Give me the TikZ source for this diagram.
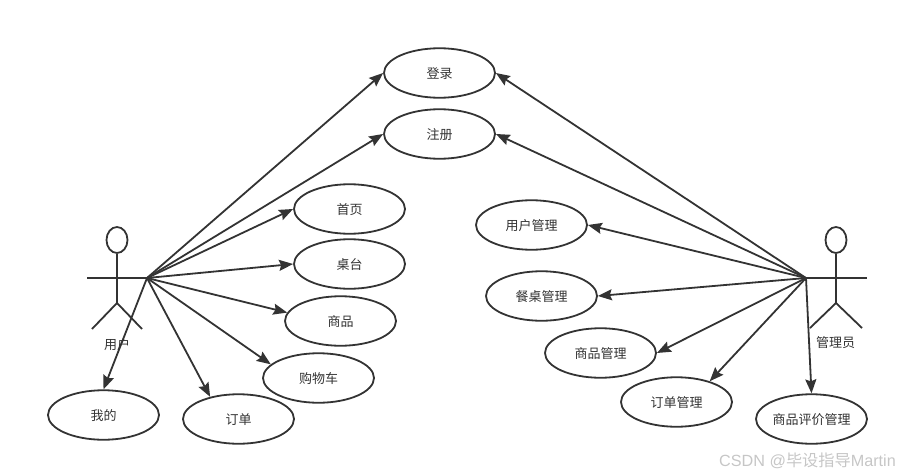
\documentclass[tikz,border=0pt]{standalone}
\usepackage{fontspec}
\setmainfont{Noto Sans CJK SC}
\setsansfont{Liberation Sans}
\usepackage{xcolor}
\usetikzlibrary{shapes.geometric, arrows.meta, positioning, calc}
\definecolor{inkgray}{RGB}{51, 51, 51}
\definecolor{markgray}{RGB}{198, 198, 198}

\begin{document}
\begin{tikzpicture}[
        x=1pt, y=-1pt,
        usecase/.style = {draw=inkgray, line width=1.8pt, ellipse, minimum width=111pt, minimum height=49.5pt, inner sep=0pt, text height=12.5pt, text depth=1pt, align=center, font=\fontsize{13}{15}\selectfont, text=inkgray},
        head/.style = {draw=inkgray, line width=1.8pt, ellipse, minimum width=21pt, minimum height=26pt, inner sep=0pt},
        limb/.style = {draw=inkgray, line width=1.8pt},
        actorname/.style = {font=\fontsize{13}{15}\selectfont, text=inkgray, inner sep=0pt},
        arrow/.style = {line width=1.8pt, draw=inkgray, ->, >={Stealth[length=14pt,width=11pt,inset=2pt]}}
    ]
        \useasboundingbox (0,0) rectangle (899,476);

        % Nodes
        \node [usecase] (login) at (439.5,73) {登录};
        \node [usecase] (signup) at (439.5,134) {注册};
        \node [usecase] (home) at (349.5,209) {首页};
        \node [usecase] (tables) at (349.5,264) {桌台};
        \node [usecase] (goods) at (340.5,321) {商品};
        \node [usecase] (cart) at (318.5,378) {购物车};
        \node [usecase] (mine) at (103.5,415) {我的};
        \node [usecase] (orders) at (238.5,419) {订单};
        \node [usecase] (usermgr) at (531.5,225) {用户管理};
        \node [usecase] (tablemgr) at (541.5,296) {餐桌管理};
        \node [usecase] (goodsmgr) at (600.5,353) {商品管理};
        \node [usecase] (ordermgr) at (676.5,402) {订单管理};
        \node [usecase] (reviewmgr) at (811.5,419) {商品评价管理};

        % User actor
        \node [head] (userhead) at (117,240) {};
        \coordinate (userhip) at (117,303);
        \coordinate (userarml) at (87,278);
        \coordinate (userarmr) at (147,278);
        \coordinate (userlegl) at (92,329);
        \coordinate (userlegr) at (142,329);
        \draw [limb] (userhead) -- (userhip);
        \draw [limb] (userarml) -- (userarmr);
        \draw [limb] (userlegl) -- (userhip) -- (userlegr);
        \node [actorname] (username) at (117,345) {用户};

        % Admin actor
        \node [head] (adminhead) at (836,240) {};
        \coordinate (adminhip) at (836,303);
        \coordinate (adminarml) at (806,278);
        \coordinate (adminarmr) at (867,278);
        \coordinate (adminlegl) at (810,328);
        \coordinate (adminlegr) at (862,328);
        \draw [limb] (adminhead) -- (adminhip);
        \draw [limb] (adminarml) -- (adminarmr);
        \draw [limb] (adminlegl) -- (adminhip) -- (adminlegr);
        \node [actorname] (adminname) at (835.5,343) {管理员};

        % Connectors
        \draw [arrow] (userarmr) -- (login.west);
        \draw [arrow] (userarmr) -- (signup.west);
        \draw [arrow] (userarmr) -- (home.west);
        \draw [arrow] (userarmr) -- (tables.west);
        \draw [arrow] (userarmr) -- (goods.171);
        \draw [arrow] (userarmr) -- (cart.164);
        \draw [arrow] (userarmr) -- (mine.north);
        \draw [arrow] (userarmr) -- (orders.142);

        \draw [arrow] (adminarml) -- (login.east);
        \draw [arrow] (adminarml) -- (signup.east);
        \draw [arrow] (adminarml) -- (usermgr.east);
        \draw [arrow] (adminarml) -- (tablemgr.east);
        \draw [arrow] (adminarml) -- (goodsmgr.east);
        \draw [arrow] (adminarml) -- (ordermgr.32);
        \draw [arrow] (adminarml) -- (reviewmgr.north);

        % Watermark
        \node [font=\fontsize{16.2}{18}\selectfont, text=markgray, anchor=east, inner sep=0pt] (mark) at (896,461) {\textsf{CSDN @}毕设指导\textsf{Martin}};
    \end{tikzpicture}
\end{document}
